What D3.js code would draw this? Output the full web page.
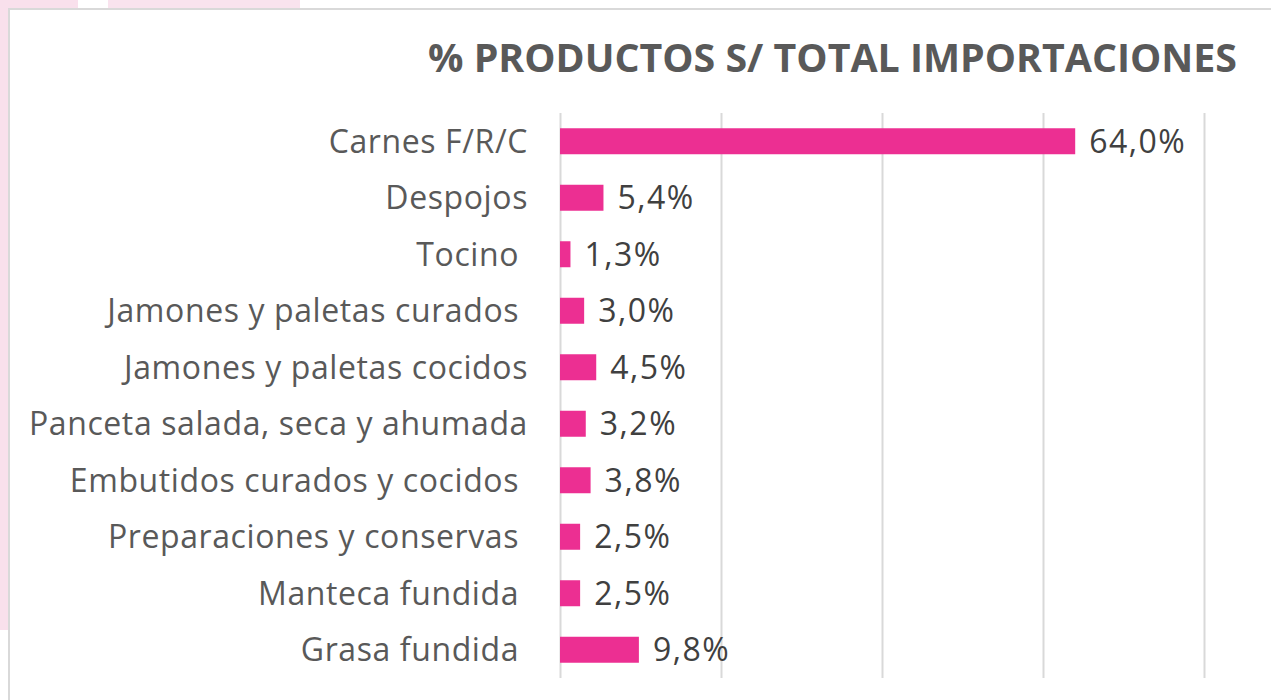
<!DOCTYPE html>
<html>
<head>
<meta charset="utf-8">
<script src="https://cdn.jsdelivr.net/npm/d3@7"></script>
<style>
	body { margin: 0; background: #fff; }
	text { font-family: "Open Sans", "Noto Sans", sans-serif; white-space: pre; }
</style>
</head>
<body>
<script>
	// datos
	const categories = [
		"Carnes F/R/C",
		"Despojos",
		"Tocino ",
		"Jamones y paletas curados ",
		"Jamones y paletas cocidos",
		"Panceta salada, seca y ahumada",
		"Embutidos curados y cocidos ",
		"Preparaciones y conservas ",
		"Manteca fundida ",
		"Grasa fundida "
	];
	const values = [64.0, 5.4, 1.3, 3.0, 4.5, 3.2, 3.8, 2.5, 2.5, 9.8];
	const ticks = [0, 20, 40, 60, 80];

	const w = 1271,
		h = 700;

	const svg = d3.select("body")
		.append("svg")
		.attr("width", w)
		.attr("height", h);

	// fondo rosado
	svg.append("rect").attr("x", 0).attr("y", 0).attr("width", 8).attr("height", 630).attr("fill", "#f9e0ec");
	svg.append("rect").attr("x", 0).attr("y", 0).attr("width", 78).attr("height", 8).attr("fill", "#f9e0ec");
	svg.append("rect").attr("x", 108).attr("y", 0).attr("width", 192).attr("height", 8).attr("fill", "#f9e3ee");

	// marco del gráfico
	svg.append("rect")
		.attr("x", 9).attr("y", 9)
		.attr("width", w).attr("height", h)
		.attr("fill", "#fff")
		.attr("stroke", "#d9d9d9")
		.attr("stroke-width", 2);

	const xScale = d3.scaleLinear()
			.domain([0, 80])
			.range([560, 1204]),
		yScale = d3.scaleBand()
			.domain(categories)
			.range([113, 678])
			.paddingInner(0.54)
			.paddingOuter(0.27);

	// líneas de división
	const grid = svg.append("g")
		.attr("transform", "translate(0,678)")
		.call(d3.axisBottom(xScale).tickValues(ticks).tickSize(-565).tickFormat(""));
	grid.select(".domain").remove();
	grid.selectAll("line").attr("stroke", "#d9d9d9").attr("stroke-width", 2);

	// barras
	svg.selectAll("rect.bar")
		.data(values)
		.enter()
		.append("rect")
		.attr("class", "bar")
		.attr("x", xScale(0))
		.attr("y", (d, i) => yScale(categories[i]))
		.attr("width", d => xScale(d) - xScale(0))
		.attr("height", yScale.bandwidth())
		.attr("fill", "#ec2f92");

	// etiquetas de valor
	svg.selectAll("text.val")
		.data(values)
		.enter()
		.append("text")
		.attr("class", "val")
		.attr("x", d => xScale(d) + 14)
		.attr("y", (d, i) => yScale(categories[i]) + yScale.bandwidth() / 2)
		.attr("dy", "0.36em")
		.attr("font-size", "32px")
		.attr("letter-spacing", "1.5px")
		.attr("fill", "#404040")
		.text(d => d.toFixed(1).replace(".", ",") + "%");

	// etiquetas de categoría
	svg.selectAll("text.cat")
		.data(categories)
		.enter()
		.append("text")
		.attr("class", "cat")
		.attr("x", 528)
		.attr("y", d => yScale(d) + yScale.bandwidth() / 2)
		.attr("dy", "0.36em")
		.attr("text-anchor", "end")
		.attr("font-size", "32px")
		.attr("letter-spacing", "0.6px")
		.attr("fill", "#595959")
		.text(d => d);

	// título
	svg.append("text")
		.attr("x", 428)
		.attr("y", 72)
		.attr("font-size", "40px")
		.attr("font-weight", "bold")
		.attr("fill", "#595959")
		.attr("textLength", 809)
		.attr("lengthAdjust", "spacingAndGlyphs")
		.text("% PRODUCTOS S/ TOTAL IMPORTACIONES");
</script>
</body>
</html>
